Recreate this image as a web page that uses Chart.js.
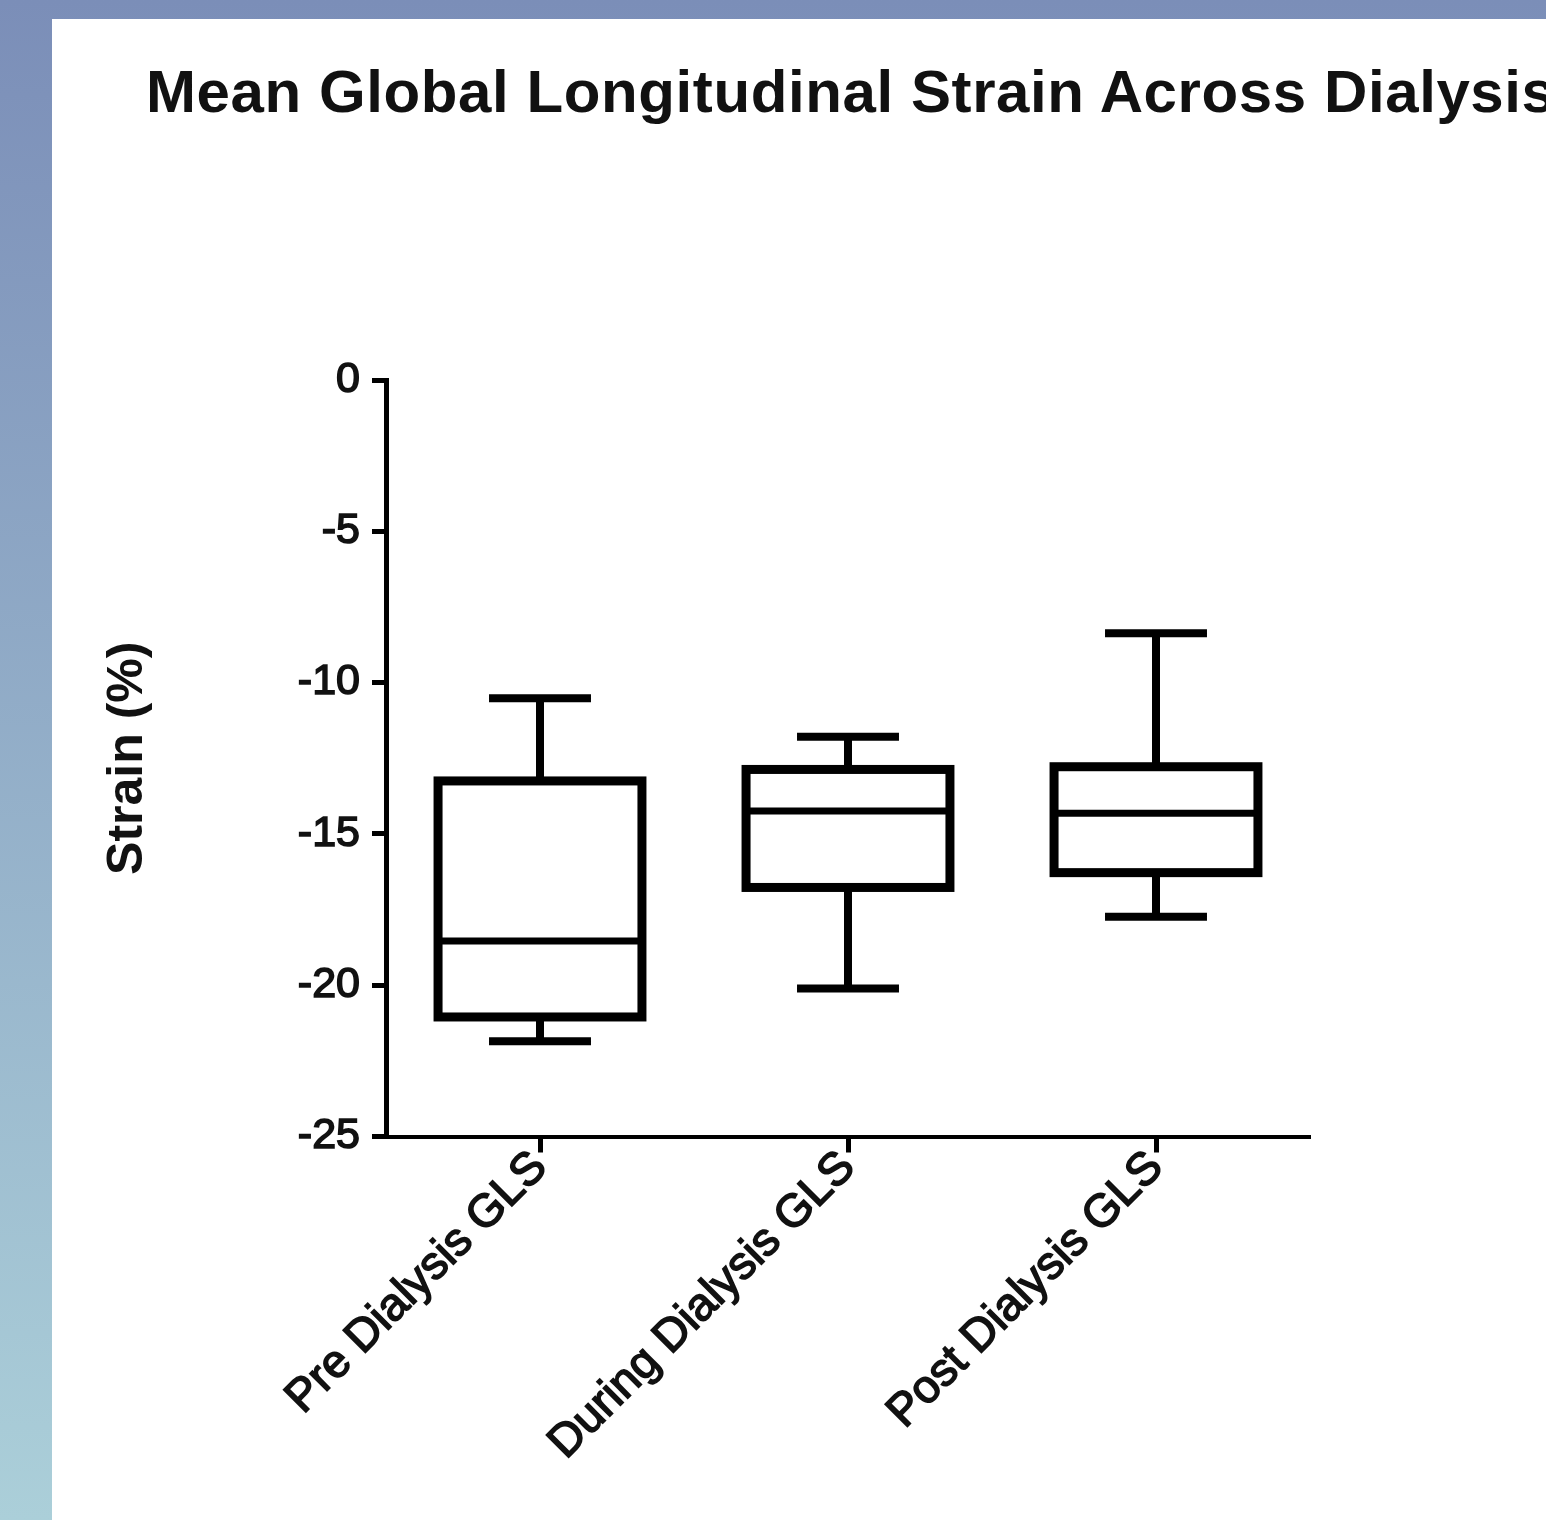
<!DOCTYPE html>
<html>
<head>
<meta charset="utf-8">
<title>Mean Global Longitudinal Strain Across Dialysis</title>
<script src="https://cdn.jsdelivr.net/npm/chart.js@4/dist/chart.umd.min.js"></script>
<style>
  html, body { margin: 0; padding: 0; }
  body {
    width: 1546px; height: 1520px; overflow: hidden; position: relative;
    background: linear-gradient(to bottom, #7b8eb8, #abcfd9);
    font-family: "Liberation Sans", Arial, sans-serif;
  }
  #panel { position: absolute; left: 52px; top: 19px; right: 0; bottom: 0; background: #fff; }
  #title {
    position: absolute; left: 146px; top: 62px; margin: 0;
    font: bold 60px/60px "Liberation Sans", Arial, sans-serif;
    letter-spacing: 0.6px; white-space: nowrap; color: #111;
  }
  #gls { position: absolute; left: 0; top: 0; }
</style>
</head>
<body>
<div id="panel"></div>
<canvas id="gls" width="1546" height="1520"></canvas>
<h1 id="title">Mean Global Longitudinal Strain Across Dialysis</h1>

<script>
// ======================
// Số liệu (strain %)
// ======================
const categories = ["Pre Dialysis GLS", "During Dialysis GLS", "Post Dialysis GLS"];
const whiskerMax = [-10.52, -11.79, -8.37];
const q3 = [-13.25, -12.87, -12.78];
const median = [-18.54, -14.24, -14.32];
const q1 = [-21.05, -16.77, -16.28];
const whiskerMin = [-21.85, -20.11, -17.74];

const yMin = -25, yMax = 0, yStep = 5;
const yTitle = "Strain (%)";

const FONT = "'Liberation Sans', Arial, sans-serif";

// ======================
// Vẽ hộp, trung vị và râu theo trục của Chart.js
// ======================
const boxPlotPlugin = {
  id: "boxPlot",
  afterDatasetsDraw(chart) {
    const ctx = chart.ctx;
    const yScale = chart.scales.y;
    const meta = chart.getDatasetMeta(0);
    ctx.save();
    ctx.strokeStyle = "#000";
    ctx.lineCap = "butt";
    ctx.lineJoin = "miter";
    meta.data.forEach((bar, i) => {
      const x = bar.x;
      const half = bar.width / 2;
      const cap = bar.width / 4;
      const yHi = yScale.getPixelForValue(q3[i]);
      const yLo = yScale.getPixelForValue(q1[i]);
      const yMed = yScale.getPixelForValue(median[i]);
      const yTop = yScale.getPixelForValue(whiskerMax[i]);
      const yBot = yScale.getPixelForValue(whiskerMin[i]);

      // râu
      ctx.lineWidth = 8;
      ctx.beginPath();
      ctx.moveTo(x, yHi); ctx.lineTo(x, yTop);
      ctx.moveTo(x - cap, yTop); ctx.lineTo(x + cap, yTop);
      ctx.moveTo(x, yLo); ctx.lineTo(x, yBot);
      ctx.moveTo(x - cap, yBot); ctx.lineTo(x + cap, yBot);
      ctx.stroke();

      // hộp
      ctx.lineWidth = 9;
      ctx.strokeRect(x - half, yHi, half * 2, yLo - yHi);

      // trung vị
      ctx.lineWidth = 7;
      ctx.beginPath();
      ctx.moveTo(x - half, yMed); ctx.lineTo(x + half, yMed);
      ctx.stroke();
    });
    ctx.restore();
  }
};

// ======================
// Khởi tạo biểu đồ
// ======================
const ctx = document.getElementById("gls").getContext("2d");

new Chart(ctx, {
  type: "bar",
  data: {
    labels: categories,
    datasets: [{
      label: "GLS",
      data: q1.map((v, i) => [v, q3[i]]),
      backgroundColor: "#fff",
      borderWidth: 0,
      categoryPercentage: 1,
      barPercentage: 0.662
    }]
  },
  options: {
    responsive: false,
    animation: false,
    layout: { padding: { top: 380, right: 236, bottom: 0, left: 0 } },
    plugins: {
      legend: { display: false },
      tooltip: { enabled: false }
    },
    scales: {
      x: {
        offset: true,
        afterFit: scale => { scale.height = 383.5; },
        border: { display: true, color: "#000", width: 4 },
        grid: {
          offset: false,
          drawOnChartArea: false,
          drawTicks: true,
          tickLength: 16,
          tickWidth: 5,
          tickColor: "#000"
        },
        ticks: {
          color: "#111",
          textStrokeColor: "#111",
          textStrokeWidth: 1.6,
          minRotation: 45,
          maxRotation: 45,
          padding: -12,
          font: { family: FONT, size: 46 }
        }
      },
      y: {
        min: yMin,
        max: yMax,
        afterFit: scale => { scale.width = 386; },
        border: { display: true, color: "#000", width: 5 },
        grid: {
          drawOnChartArea: false,
          drawTicks: true,
          tickLength: 14,
          tickWidth: 5,
          tickColor: "#000"
        },
        ticks: {
          stepSize: yStep,
          color: "#111",
          textStrokeColor: "#111",
          textStrokeWidth: 1.6,
          padding: 12,
          font: { family: FONT, size: 43 }
        },
        title: {
          display: true,
          text: yTitle,
          color: "#111",
          padding: { top: 98, bottom: 0 },
          font: { family: FONT, size: 50, weight: "bold" }
        }
      }
    }
  },
  plugins: [boxPlotPlugin]
});
</script>
</body>
</html>
